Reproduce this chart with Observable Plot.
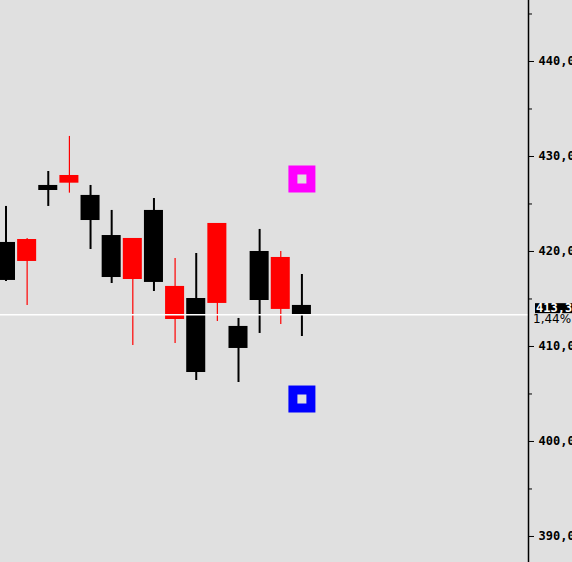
<!DOCTYPE html>
<html><head><meta charset="utf-8">
<script src="https://cdn.jsdelivr.net/npm/d3@7"></script>
<script src="https://cdn.jsdelivr.net/npm/@observablehq/plot@0.6"></script>
<style>
html,body{margin:0;padding:0;background:#e0e0e0;overflow:hidden;}
</style></head><body><div id="chart"></div>
<script>
const open  = [420.95, 418.95, 426.95, 427.19, 425.90, 421.68, 417.05, 424.32, 412.84, 415.05, 414.53, 412.11, 420.00, 413.90, 414.32];
const high  = [424.74, 421.37, 428.42, 432.11, 426.95, 424.32, 421.37, 425.58, 419.26, 419.79, 422.95, 412.95, 422.32, 420.00, 417.58];
const low   = [416.84, 414.32, 424.74, 426.14, 420.21, 416.63, 410.11, 415.79, 410.32, 406.42, 412.63, 406.21, 411.37, 412.32, 411.05];
const close = [416.95, 421.26, 426.42, 428.00, 423.26, 417.26, 421.37, 416.74, 416.32, 407.26, 422.95, 409.79, 414.84, 419.37, 413.35];
const lastPrice = 413.35;
const changeLabel = "1,44%";
const markerHigh = [427.63];   // magenta
const markerLow = [404.47];    // blue
const yTicks = [390, 400, 410, 420, 430, 440];
const yMinorTicks = [395, 405, 415, 425, 435, 445];
const xDomain = [-0.26, 24.72];
const yDomain = [387.26, 446.42];

const candles = open.map((o, i) => ({i, open: o, high: high[i], low: low[i], close: close[i]}));
const down = candles.filter(d => d.close < d.open);
const up = candles.filter(d => d.close >= d.open);
const lastIndex = candles.length - 1;
const fmt = v => d3.format(".2f")(v).replace(".", ",");

// last-price label: black box with white text, positioned through the plot's scales
function priceLabel(index, scales) {
  const yPix = scales.y(lastPrice);
  const xPix = scales.x(xDomain[1]);
  const g = d3.create("svg:g");
  g.append("rect")
    .attr("x", xPix + 7)
    .attr("y", yPix - 11)
    .attr("width", 44)
    .attr("height", 10)
    .attr("fill", "#000000");
  g.append("text")
    .attr("x", xPix + 8)
    .attr("y", yPix - 2)
    .attr("fill", "#ffffff")
    .attr("text-anchor", "start")
    .attr("font-family", "DejaVu Sans Mono")
    .attr("font-weight", "bold")
    .attr("font-size", 12)
    .text(fmt(lastPrice));
  g.append("text")
    .attr("x", xPix + 5)
    .attr("y", yPix + 8.5)
    .attr("fill", "#000000")
    .attr("text-anchor", "start")
    .attr("font-family", "DejaVu Sans")
    .attr("font-weight", "normal")
    .attr("font-size", 12)
    .text(changeLabel);
  return g.node();
}

const chart = Plot.plot({
  width: 572, height: 562,
  marginTop: 0, marginBottom: 0, marginLeft: 0, marginRight: 44,
  style: {background: "#e0e0e0", fontFamily: "DejaVu Sans Mono", fontSize: "12px", fontWeight: "bold", color: "black"},
  x: {domain: xDomain, axis: null},
  y: {domain: yDomain},
  marks: [
    Plot.ruleX(down, {x: "i", y1: "low", y2: "high", stroke: "black", strokeWidth: 2}),
    Plot.ruleX(up, {x: "i", y1: "low", y2: "high", stroke: "#ff0000", strokeWidth: 1.2}),
    Plot.rect(down, {x1: d => d.i - 0.45, x2: d => d.i + 0.45, y1: "open", y2: "close", fill: "black"}),
    Plot.rect(up, {x1: d => d.i - 0.45, x2: d => d.i + 0.45, y1: "open", y2: "close", fill: "#ff0000"}),
    Plot.ruleY([lastPrice], {stroke: "white", strokeWidth: 1.5}),
    Plot.dot(markerHigh, {x: () => lastIndex, y: d => d, symbol: "square", r: 15.23, fill: "#ff00ff"}),
    Plot.dot(markerHigh, {x: () => lastIndex, y: d => d, symbol: "square", r: 5.08, fill: "#e0e0e0"}),
    Plot.dot(markerLow, {x: () => lastIndex, y: d => d, symbol: "square", r: 15.23, fill: "#0000ff"}),
    Plot.dot(markerLow, {x: () => lastIndex, y: d => d, symbol: "square", r: 5.08, fill: "#e0e0e0"}),
    Plot.ruleX([xDomain[1]], {stroke: "black", strokeWidth: 1.5}),
    Plot.axisY(yTicks, {anchor: "right", tickSize: 5, tickPadding: 5, tickFormat: fmt, label: null, stroke: "black"}),
    Plot.axisY(yMinorTicks, {anchor: "right", tickSize: 3, tickFormat: () => "", label: null, stroke: "black"}),
    priceLabel
  ]
});
document.getElementById("chart").appendChild(chart);
</script></body></html>
